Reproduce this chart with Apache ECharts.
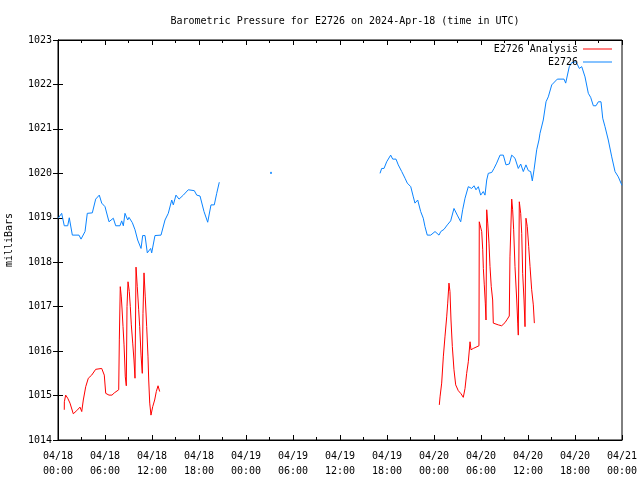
<!DOCTYPE html>
<html>
<head>
<meta charset="utf-8">
<script src="https://cdn.jsdelivr.net/npm/echarts@6/dist/echarts.min.js"></script>
<style>html,body{margin:0;padding:0;background:#fff;}#c{width:640px;height:480px;}</style>
</head>
<body>
<div id="c"></div>
<script>
const titleText = 'Barometric Pressure for E2726 on 2024-Apr-18 (time in UTC)';
const yAxisName = 'milliBars';
const seriesNames = ['E2726 Analysis', 'E2726'];
const xTickLabels = ['04/18\n00:00','04/18\n06:00','04/18\n12:00','04/18\n18:00','04/19\n00:00','04/19\n06:00','04/19\n12:00','04/19\n18:00','04/20\n00:00','04/20\n06:00','04/20\n12:00','04/20\n18:00','04/21\n00:00'];

// hours since 04/18 00:00 UTC; null value = gap
const analysisHours = [0.80,0.81,0.98,1.24,1.53,1.95,2.39,2.81,3.03,3.23,3.54,3.87,4.30,4.81,5.58,5.78,5.91,6.09,6.51,6.89,7.19,7.75,7.83,7.95,8.08,8.17,8.30,8.43,8.51,8.59,8.72,8.81,8.94,9.10,9.23,9.36,9.54,9.70,9.83,9.96,10.12,10.30,10.43,10.60,10.76,10.85,10.98,11.14,11.32,11.49,11.58,11.71,11.87,12.09,12.34,12.55,12.77,12.98,
  30,
  48.68,48.77,48.98,49.19,49.40,49.62,49.75,49.91,50.04,50.17,50.34,50.55,50.77,51.10,51.45,51.74,51.96,52.17,52.38,52.60,52.72,53.02,53.74,53.78,53.96,54.09,54.22,54.30,54.42,54.55,54.64,54.73,54.86,55.02,55.15,55.31,55.49,55.57,56.21,56.64,57.06,57.36,57.61,57.70,57.92,58.04,58.17,58.34,58.56,58.69,58.76,58.89,59.07,59.20,59.32,59.49,59.62,59.74,59.91,60.09,60.26,60.47,60.68,60.81];
const analysisValues = [1014.68,1014.86,1015.01,1014.94,1014.83,1014.59,1014.66,1014.74,1014.64,1014.90,1015.20,1015.39,1015.46,1015.59,1015.61,1015.61,1015.46,1015.05,1015.01,1015.01,1015.06,1015.13,1016.27,1017.45,1017.22,1016.97,1016.55,1016.14,1015.80,1015.42,1015.22,1017.00,1017.56,1017.34,1017.00,1016.59,1016.18,1015.80,1015.39,1017.89,1017.45,1016.93,1016.55,1015.91,1015.50,1016.85,1017.76,1017.22,1016.55,1015.87,1015.35,1014.83,1014.56,1014.75,1014.90,1015.09,1015.22,1015.09,
  null,
  1014.79,1014.97,1015.28,1015.87,1016.32,1016.77,1017.08,1017.53,1017.34,1016.70,1016.10,1015.58,1015.24,1015.11,1015.04,1014.96,1015.16,1015.50,1015.76,1016.21,1016.03,1016.06,1016.12,1018.91,1018.91,1018.69,1018.28,1017.86,1017.49,1017.08,1016.70,1019.18,1018.88,1018.43,1017.90,1017.45,1017.15,1016.63,1016.59,1016.57,1016.64,1016.72,1016.79,1018.12,1019.42,1019.18,1018.73,1017.90,1017.15,1016.63,1016.36,1019.36,1019.10,1018.65,1017.75,1017.15,1016.55,1018.99,1018.80,1018.35,1017.90,1017.38,1017.04,1016.63];

const sensorHours = [0.02,0.47,0.80,1.24,1.44,1.83,2.68,2.94,3.45,3.74,4.38,4.81,5.27,5.58,6.00,6.51,7.06,7.37,7.91,8.13,8.34,8.55,8.90,9.06,9.49,9.83,10.17,10.60,10.81,11.11,11.40,11.83,11.96,12.38,13.15,13.66,14.08,14.52,14.72,15.06,15.45,16.00,16.63,17.40,17.71,18.13,18.64,19.11,19.53,19.95,20.26,20.59,
  24,
  27.19,
  34,
  41.11,41.32,41.62,41.96,42.47,42.73,43.15,43.44,43.88,44.30,44.59,45.03,45.36,45.57,45.92,46.30,46.63,46.85,47.14,47.58,48.13,48.64,48.86,49.28,49.70,50.13,50.55,50.97,51.41,51.66,51.96,52.38,52.81,53.11,53.36,53.66,53.96,54.29,54.51,54.73,54.93,55.37,55.66,56.00,56.43,56.85,57.19,57.61,57.92,58.34,58.76,59.07,59.40,59.74,60.04,60.34,60.55,60.77,61.11,61.40,61.53,61.95,62.30,62.59,63.03,63.23,63.74,64.60,64.81,65.27,65.58,66.13,66.55,66.86,67.28,67.70,68.00,68.34,68.68,68.98,69.32,69.54,69.83,70.25,70.69,71.11,71.53,71.87,72.0];
const sensorValues = [1018.99,1019.10,1018.82,1018.82,1019.00,1018.61,1018.61,1018.52,1018.69,1019.10,1019.11,1019.42,1019.51,1019.33,1019.25,1018.91,1018.99,1018.82,1018.82,1018.93,1018.82,1019.10,1018.95,1019.01,1018.89,1018.73,1018.50,1018.31,1018.60,1018.60,1018.21,1018.31,1018.21,1018.60,1018.61,1018.95,1019.10,1019.40,1019.29,1019.51,1019.42,1019.51,1019.63,1019.61,1019.51,1019.49,1019.14,1018.90,1019.29,1019.29,1019.55,1019.80,
  null,
  1020.01,
  null,
  1020.00,1020.11,1020.11,1020.26,1020.41,1020.32,1020.32,1020.19,1020.04,1019.89,1019.78,1019.70,1019.47,1019.33,1019.40,1019.14,1018.99,1018.80,1018.61,1018.61,1018.69,1018.61,1018.69,1018.74,1018.84,1018.93,1019.21,1019.06,1018.91,1019.18,1019.44,1019.70,1019.66,1019.72,1019.63,1019.70,1019.51,1019.59,1019.51,1019.85,1020.00,1020.02,1020.11,1020.23,1020.41,1020.41,1020.19,1020.21,1020.41,1020.34,1020.11,1020.21,1020.04,1020.19,1020.06,1020.04,1019.83,1020.08,1020.53,1020.75,1020.90,1021.20,1021.61,1021.72,1021.99,1022.03,1022.12,1022.12,1022.03,1022.40,1022.49,1022.51,1022.36,1022.40,1022.17,1021.80,1021.71,1021.52,1021.52,1021.61,1021.61,1021.24,1021.05,1020.75,1020.37,1020.04,1019.92,1019.78,1019.73];

const pair = (hs, vs) => hs.map((h, i) => [h, vs[i] === null ? '-' : vs[i]]);
const isolated = (hs, vs) => hs.map((h, i) => [h, vs[i]]).filter((p, i) =>
  vs[i] !== null && (i === 0 || vs[i-1] === null) && (i === vs.length - 1 || vs[i+1] === null));

const font = 'DejaVu Sans Mono';
const RED = '#ff0000', BLUE = '#0a84ff';

const axisCommon = {
  axisLine: {show: true, lineStyle: {color: '#000', width: 1}},
  splitLine: {show: false}
};

const chart = echarts.init(document.getElementById('c'), null, {renderer: 'canvas'});
chart.setOption({
  animation: false,
  backgroundColor: '#fff',
  title: {
    text: titleText, left: 340, top: 11, textAlign: 'center',
    textStyle: {fontFamily: font, fontSize: 10, fontWeight: 'normal', color: '#000'}
  },
  legend: [
    {data: [seriesNames[0]], right: 28, top: 44, align: 'right', icon: 'rect', itemWidth: 29, itemHeight: 1,
     textStyle: {fontFamily: font, fontSize: 10, color: '#000'}, selectedMode: false, padding: 0},
    {data: [seriesNames[1]], right: 28, top: 57, align: 'right', icon: 'rect', itemWidth: 29, itemHeight: 1,
     textStyle: {fontFamily: font, fontSize: 10, color: '#000'}, selectedMode: false, padding: 0}
  ],
  grid: {left: 58, right: 18, top: 40, bottom: 40, show: true, borderColor: '#000', borderWidth: 1,
    containLabel: false, outerBoundsMode: 'none'},
  xAxis: [
    Object.assign({type: 'value', min: 0, max: 72, interval: 6, position: 'bottom',
      axisTick: {show: true, inside: true, length: 5, lineStyle: {color: '#000'}},
      minorTick: {show: true, splitNumber: 2, length: 3, lineStyle: {color: '#000'}},
      axisLabel: {fontFamily: font, fontSize: 10, color: '#000', margin: 9, lineHeight: 15,
        formatter: v => xTickLabels[Math.round(v / 6)]}}, axisCommon),
    Object.assign({type: 'value', min: 0, max: 72, interval: 6, position: 'top',
      axisTick: {show: true, inside: true, length: 5, lineStyle: {color: '#000'}},
      minorTick: {show: true, splitNumber: 2, length: 3, lineStyle: {color: '#000'}},
      axisLabel: {show: false}}, axisCommon)
  ],
  yAxis: [
    Object.assign({type: 'value', min: 1014, max: 1023, interval: 1, position: 'left',
      name: yAxisName, nameLocation: 'middle', nameGap: 44, nameRotate: 90,
      nameTextStyle: {fontFamily: font, fontSize: 10, color: '#000'},
      axisTick: {show: true, inside: true, length: 5, lineStyle: {color: '#000'}},
      axisLabel: {fontFamily: font, fontSize: 10, color: '#000', margin: 6, formatter: v => String(v)}}, axisCommon),
    Object.assign({type: 'value', min: 1014, max: 1023, interval: 1, position: 'right',
      axisTick: {show: true, inside: true, length: 5, lineStyle: {color: '#000'}},
      axisLabel: {show: false}}, axisCommon)
  ],
  series: [
    {name: seriesNames[0], type: 'line', data: pair(analysisHours, analysisValues), showSymbol: false,
     connectNulls: false, lineStyle: {color: RED, width: 1}, itemStyle: {color: RED}},
    {name: seriesNames[1], type: 'line', data: pair(sensorHours, sensorValues), showSymbol: false,
     connectNulls: false, lineStyle: {color: BLUE, width: 1}, itemStyle: {color: BLUE}},
    {type: 'scatter', data: isolated(sensorHours, sensorValues), symbol: 'rect', symbolSize: 2,
     itemStyle: {color: BLUE}}
  ]
});
</script>
</body>
</html>
